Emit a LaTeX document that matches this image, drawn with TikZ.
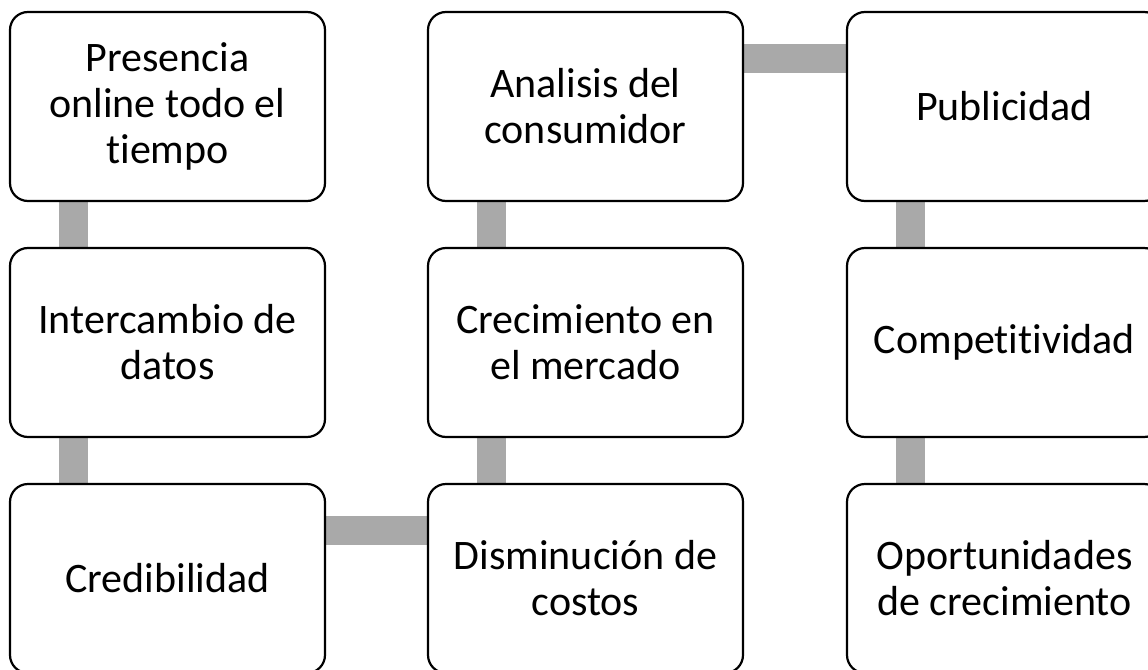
\documentclass[tikz,border=0pt]{standalone}
\usepackage{fontspec}
\setmainfont{Carlito}[Ligatures={NoCommon}]
\definecolor{LINKcolor}{HTML}{A9A9A9}
\usetikzlibrary{backgrounds}

\begin{document}
\begin{tikzpicture}[x=1pt, y=-1pt]
    \tikzset{%
        stepbox/.style={draw, fill=white, line width=2.2pt, rounded corners=18pt,
                minimum width=315pt, minimum height=189pt, inner sep=0pt,
                align=center, font=\fontsize{42pt}{46pt}\selectfont},
        link/.style={draw=LINKcolor, line width=29pt}
    }

    \useasboundingbox (0, 0) rectangle (1148, 669);
    \clip (0, 0) rectangle (1148, 669);

    % column 1
    \node [stepbox] (pres) at (167.5, 106.5) {Presencia\\online todo el\\tiempo};
    \node [stepbox] (inter) at (167.5, 342.5) {Intercambio de\\datos};
    \node [stepbox] (cred) at (167.5, 578.5) {Credibilidad};
    % column 2
    \node [stepbox] (analisis) at (585.5, 106.5) {Analisis del\\consumidor};
    \node [stepbox] (crec) at (585.5, 342.5) {Crecimiento en\\el mercado};
    \node [stepbox] (dism) at (585.5, 578.5) {Disminución de\\costos};
    % column 3
    \node [stepbox] (publi) at (1004.5, 106.5) {Publicidad};
    \node [stepbox] (compet) at (1004.5, 342.5) {Competitividad};
    \node [stepbox] (oport) at (1004.5, 578.5) {Oportunidades\\de crecimiento};

    % links behind the boxes
    \begin{scope}[on background layer]
        \draw [link] ([xshift=64.5pt]pres.south west) -- ([xshift=64.5pt]inter.north west);
        \draw [link] ([xshift=64.5pt]inter.south west) -- ([xshift=64.5pt]cred.north west);
        \draw [link] ([yshift=-47.5pt]cred.north east) -- ([yshift=-47.5pt]dism.north west);
        \draw [link] ([xshift=64.5pt]dism.north west) -- ([xshift=64.5pt]crec.south west);
        \draw [link] ([xshift=64.5pt]crec.north west) -- ([xshift=64.5pt]analisis.south west);
        \draw [link] ([yshift=-47.5pt]analisis.north east) -- ([yshift=-47.5pt]publi.north west);
        \draw [link] ([xshift=64.5pt]publi.south west) -- ([xshift=64.5pt]compet.north west);
        \draw [link] ([xshift=64.5pt]compet.south west) -- ([xshift=64.5pt]oport.north west);
    \end{scope}

\end{tikzpicture}
\end{document}
